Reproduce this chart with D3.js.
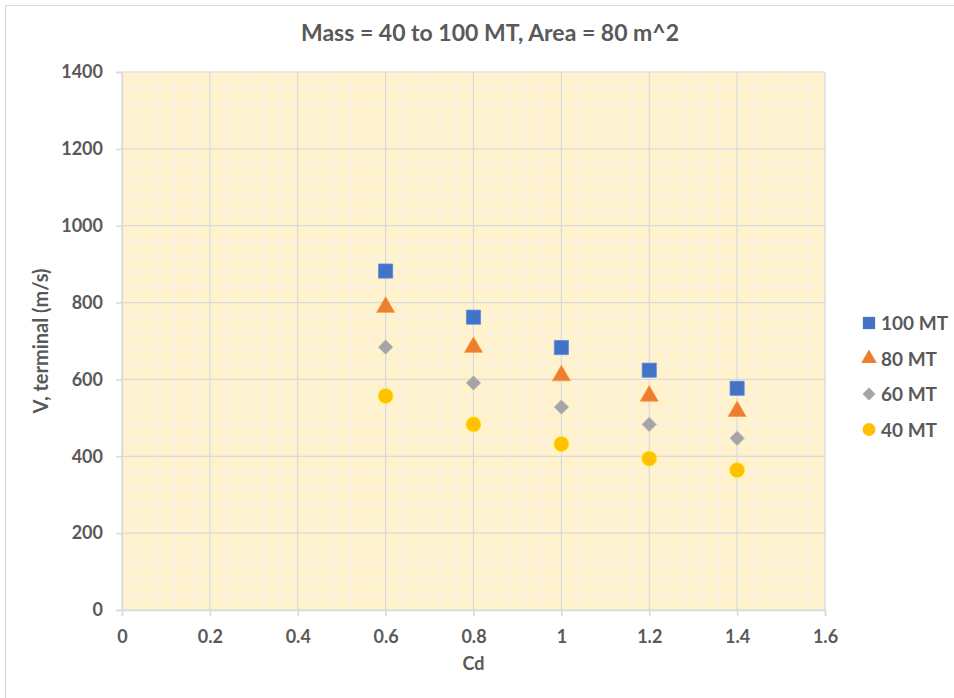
<!DOCTYPE html>
<html>
<head>
<meta charset="utf-8">
<script src="https://cdn.jsdelivr.net/npm/d3@7"></script>
<style>
  body { margin: 0; background: #fff; }
  text { font-family: Lato, "Open Sans", sans-serif; fill: #595959; font-weight: bold; }
</style>
</head>
<body>
<div id="chart"></div>
<script>
// values
let cdValues = [0.6, 0.8, 1.0, 1.2, 1.4];
let seriesNames = ["100 MT", "80 MT", "60 MT", "40 MT"];
let v100 = [882, 762, 683, 624, 577];
let v80 = [788, 684, 610, 557, 517];
let v60 = [684, 591, 528, 483, 447];
let v40 = [557, 483, 432, 394, 364];
let xTicks = [0, 0.2, 0.4, 0.6, 0.8, 1, 1.2, 1.4, 1.6];
let yTicks = [0, 200, 400, 600, 800, 1000, 1200, 1400];

// square turned 45 degrees, as in the spreadsheet marker
let symbolRhombus = {
    draw(context, size) {
        let r = Math.sqrt(size / 2);
        context.moveTo(0, -r);
        context.lineTo(r, 0);
        context.lineTo(0, r);
        context.lineTo(-r, 0);
        context.closePath();
    }
};

let series = [
    {name: seriesNames[0], values: v100, color: "#4472c4", shape: d3.symbolSquare, size: 200},
    {name: seriesNames[1], values: v80, color: "#ed7d31", shape: d3.symbolTriangle, size: 140},
    {name: seriesNames[2], values: v60, color: "#a5a5a5", shape: symbolRhombus, size: 110},
    {name: seriesNames[3], values: v40, color: "#ffc000", shape: d3.symbolCircle, size: 175}
];

let width = 954, height = 698;
let margin = {top: 72, left: 122, right: 129, bottom: 88};
let plotW = width - margin.left - margin.right;
let plotH = height - margin.top - margin.bottom;

let svg = d3.select("#chart").append("svg")
    .attr("width", width)
    .attr("height", height);

// outer chart border
svg.append("rect")
    .attr("x", 5.5).attr("y", 5.5)
    .attr("width", width).attr("height", height)
    .attr("fill", "none")
    .attr("stroke", "#d9d9d9");

let g = svg.append("g")
    .attr("transform", "translate(" + margin.left + "," + margin.top + ")");

let x = d3.scaleLinear().domain([0, 1.6]).range([0, plotW]);
let y = d3.scaleLinear().domain([0, 1400]).range([plotH, 0]);

g.append("rect")
    .attr("width", plotW).attr("height", plotH)
    .attr("fill", "#fff2cc");

// minor grid
let xMinor = d3.range(0, 1.6001, 0.04);
let yMinor = d3.range(0, 1400.1, 40);
g.selectAll(".xminor").data(xMinor).enter().append("line")
    .attr("x1", d => x(d)).attr("x2", d => x(d))
    .attr("y1", 0).attr("y2", plotH)
    .attr("stroke", "#f2f2f2").attr("stroke-width", 1);
g.selectAll(".yminor").data(yMinor).enter().append("line")
    .attr("x1", 0).attr("x2", plotW)
    .attr("y1", d => y(d)).attr("y2", d => y(d))
    .attr("stroke", "#f2f2f2").attr("stroke-width", 1);

// major grid
g.selectAll(".xmajor").data(xTicks).enter().append("line")
    .attr("x1", d => x(d)).attr("x2", d => x(d))
    .attr("y1", 0).attr("y2", plotH)
    .attr("stroke", "#d9d9d9").attr("stroke-width", 1.2);
g.selectAll(".ymajor").data(yTicks).enter().append("line")
    .attr("x1", 0).attr("x2", plotW)
    .attr("y1", d => y(d)).attr("y2", d => y(d))
    .attr("stroke", "#d9d9d9").attr("stroke-width", 1.2);

let xAxis = g.append("g")
    .attr("transform", "translate(0," + plotH + ")")
    .call(d3.axisBottom(x).tickValues(xTicks).tickFormat(d3.format("")).tickSizeOuter(0).tickSize(6).tickPadding(14));
let yAxis = g.append("g")
    .call(d3.axisLeft(y).tickValues(yTicks).tickFormat(d3.format("d")).tickSizeOuter(0).tickSize(6).tickPadding(13));

[xAxis, yAxis].forEach(a => {
    a.selectAll("path, line").attr("stroke", "#d9d9d9").attr("stroke-width", 1.5);
    a.selectAll("text").style("font-size", "18px").attr("fill", "#595959");
});

// points
series.forEach(s => {
    g.selectAll(null).data(s.values).enter().append("path")
        .attr("d", d3.symbol().type(s.shape).size(s.size))
        .attr("transform", (d, i) => "translate(" + x(cdValues[i]) + "," + y(d) + ")")
        .attr("fill", s.color)
        .attr("stroke", d3.color(s.color).brighter(0.6))
        .attr("stroke-width", 0.8);
});

// title and axis titles
svg.append("text")
    .attr("x", 490).attr("y", 41)
    .attr("text-anchor", "middle")
    .style("font-size", "23px")
    .text("Mass = 40 to 100 MT, Area = 80 m^2");

svg.append("text")
    .attr("x", margin.left + plotW / 2).attr("y", 670)
    .attr("text-anchor", "middle")
    .style("font-size", "18px")
    .text("Cd");

svg.append("text")
    .attr("transform", "translate(48," + (margin.top + plotH / 2) + ") rotate(-90)")
    .attr("text-anchor", "middle")
    .style("font-size", "20px")
    .text("V, terminal (m/s)");

// legend
let legend = svg.append("g").attr("transform", "translate(869,323)");
series.forEach((s, i) => {
    let row = legend.append("g").attr("transform", "translate(0," + (i * 35.5) + ")");
    row.append("path")
        .attr("d", d3.symbol().type(s.shape).size(s.size * 0.75))
        .attr("fill", s.color);
    row.append("text")
        .attr("x", 12).attr("y", 7)
        .style("font-size", "19px")
        .text(s.name);
});
</script>
</body>
</html>
